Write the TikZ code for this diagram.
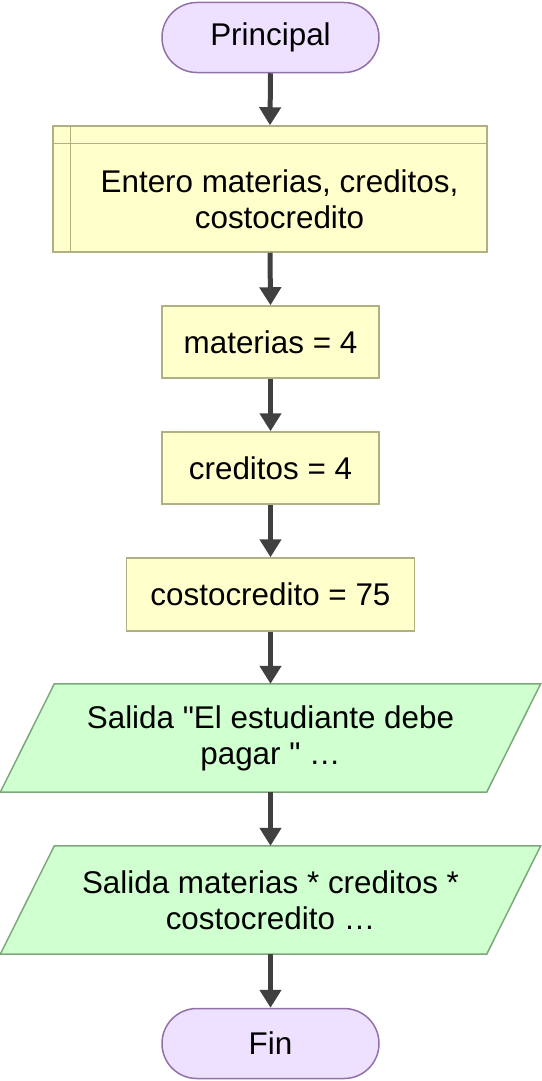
\documentclass[tikz,border=0pt]{standalone}
\usepackage{fontspec}
\setmainfont{Liberation Sans}
\usetikzlibrary{arrows.meta,backgrounds}

\definecolor{termfondo}{RGB}{238,224,255}
\definecolor{termborde}{RGB}{146,112,168}
\definecolor{procfondo}{RGB}{255,255,204}
\definecolor{procborde}{RGB}{176,176,128}
\definecolor{salfondo}{RGB}{208,255,208}
\definecolor{salborde}{RGB}{124,168,124}
\definecolor{flechagris}{RGB}{64,64,64}

\tikzset{
    terminal/.style={draw=termborde, fill=termfondo, line width=1.5pt, rounded corners=34.9pt, minimum width=217pt, minimum height=70pt},
    proceso/.style={draw=procborde, fill=procfondo, line width=1.5pt, minimum width=217pt, minimum height=72pt},
    salida/.style={minimum width=486pt, minimum height=108pt, align=center},
    flecha/.style={draw=flechagris, line width=5pt, -{Triangle[length=18pt,width=21pt]}},
}

\begin{document}
\begin{tikzpicture}[x=1pt, y=-1pt, font=\fontsize{31.4}{36}\selectfont]
    \useasboundingbox (0,0) rectangle (541,1081);
    \node[terminal] (inicio) at (270.5,37.5) {Principal};
    % declaracion de variables
    \node[proceso, minimum width=434pt, minimum height=126pt] (declara) at (270,189) {};
    \draw[procborde, line width=1.5pt] ([xshift=18pt]declara.north west) -- ([xshift=18pt]declara.south west);
    \draw[procborde, line width=1.5pt] ([yshift=-18pt]declara.north west) -- ([yshift=-18pt]declara.north east);
    \node[align=center] (declaratxt) at (279.5,199) {Entero materias, creditos,\\costocredito};
    \node[proceso] (materias) at (270.5,342) {materias = 4};
    \node[proceso] (creditos) at (270.5,468) {creditos = 4};
    \node[proceso, minimum width=288pt, minimum height=73pt] (costo) at (270.5,594.5) {costocredito = 75};
    % salidas
    \node[salida] (salida1) at (270.5,738) {Salida \textquotedbl El estudiante debe\\pagar \textquotedbl\ \dots};
    \node[salida] (salida2) at (270.5,900) {Salida materias * creditos *\\costocredito \dots};
    \begin{scope}[on background layer]
        \foreach \s in {salida1,salida2}
            \filldraw[draw=salborde, fill=salfondo, line width=1.5pt] ([xshift=27pt]\s.north west) -- ([xshift=27pt]\s.north east) -- ([xshift=-27pt]\s.south east) -- ([xshift=-27pt]\s.south west) -- cycle;
    \end{scope}
    \node[terminal] (fin) at (270.5,1043.5) {Fin};
    \draw[flecha] (inicio.south) -- (declara.north);
    \draw[flecha] (declara.south) -- (materias.north);
    \draw[flecha] (materias) -- (creditos);
    \draw[flecha] (creditos) -- (costo);
    \draw[flecha] (costo) -- (salida1);
    \draw[flecha] (salida1) -- (salida2);
    \draw[flecha] (salida2) -- (fin);
\end{tikzpicture}
\end{document}
